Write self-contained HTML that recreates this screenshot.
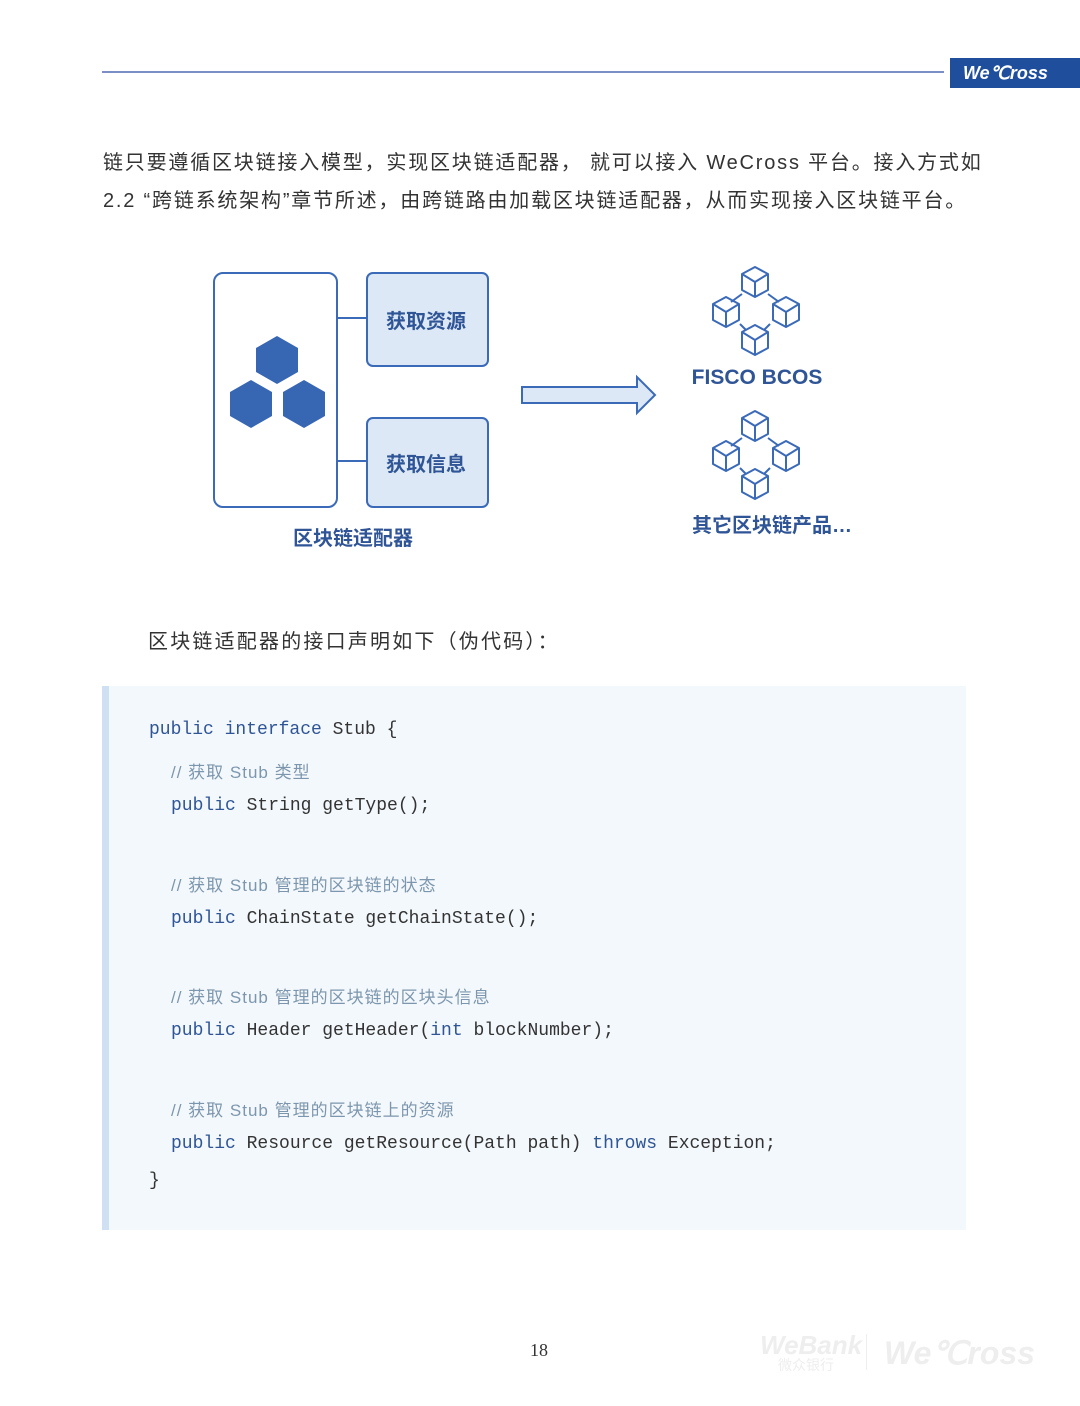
<!DOCTYPE html>
<html><head><meta charset="utf-8"><style>
body{margin:0;width:1080px;height:1406px;background:#fff;position:relative;overflow:hidden;font-family:"Liberation Sans","Noto Sans CJK SC",sans-serif;color:#333}
.abs{position:absolute}
.t{font-size:20px;white-space:nowrap;letter-spacing:1.8px}
.code{position:absolute;left:102px;top:686px;width:864px;height:544px;background:#f3f8fc;border-left:7px solid #cfe0f3;box-sizing:border-box}
.cl{position:absolute;font-family:"Liberation Mono",monospace;font-size:18px;color:#333;white-space:nowrap}
.k{color:#2f5597}
.c{position:absolute;font-family:"Liberation Sans","Noto Sans CJK SC",sans-serif;font-size:17px;color:#7d96ad;white-space:nowrap;letter-spacing:1px}
</style></head><body>
<div class="abs" style="left:102px;top:71px;width:842px;height:2px;background:#7b8fc6"></div>
<div class="abs" style="left:950px;top:58px;width:130px;height:30px;background:#1f4e9c;color:#fff;font:italic bold 18px 'Liberation Sans',sans-serif;line-height:30px;padding-left:13px;box-sizing:border-box">We℃ross</div>

<div class="abs t" style="left:103px;top:146px">链只要遵循区块链接入模型，实现区块链适配器， 就可以接入 WeCross 平台。接入方式如</div>
<div class="abs t" style="left:103px;top:184px">2.2 “跨链系统架构”章节所述，由跨链路由加载区块链适配器，从而实现接入区块链平台。</div>

<svg class="abs" style="left:0;top:0" width="1080" height="600">
<defs>
<g id="cube" fill="none" stroke="#3a6ab8" stroke-width="2" stroke-linejoin="round">
<path d="M0,-15 L13,-8 L13,8 L0,15 L-13,8 L-13,-8 Z"/>
<path d="M-13,-8 L0,0 L13,-8 M0,0 L0,15"/>
</g>
<g id="cl">
<g stroke="#3a6ab8" stroke-width="2"><line x1="742" y1="294" x2="731" y2="302"/><line x1="768" y1="294" x2="779" y2="302"/><line x1="740" y1="324" x2="746" y2="330"/><line x1="770" y1="324" x2="764" y2="330"/></g>
<use href="#cube" x="755" y="282"/><use href="#cube" x="726" y="312"/><use href="#cube" x="786" y="312"/><use href="#cube" x="755" y="340"/>
</g>
</defs>
<rect x="214" y="273" width="123" height="234" rx="9" fill="#fff" stroke="#3a6ab8" stroke-width="2"/>
<rect x="367" y="273" width="121" height="93" rx="6" fill="#dce8f5" stroke="#3a6ab8" stroke-width="2"/>
<rect x="367" y="418" width="121" height="89" rx="6" fill="#dce8f5" stroke="#3a6ab8" stroke-width="2"/>
<line x1="337" y1="318" x2="367" y2="318" stroke="#3a6ab8" stroke-width="2"/>
<line x1="337" y1="461" x2="367" y2="461" stroke="#3a6ab8" stroke-width="2"/>
<g fill="#3766b2">
<path d="M277,336 L298,348 L298,372 L277,384 L256,372 L256,348Z"/>
<path d="M251,380 L272,392 L272,416 L251,428 L230,416 L230,392Z"/>
<path d="M304,380 L325,392 L325,416 L304,428 L283,416 L283,392Z"/>
</g>
<path d="M522,387 L637,387 L637,377 L655,395 L637,413 L637,403 L522,403Z" fill="#dce8f5" stroke="#3a6ab8" stroke-width="2"/>
<use href="#cl"/>
<use href="#cl" y="144"/>
<text x="426" y="328" text-anchor="middle" font-family="Liberation Sans,Noto Sans CJK SC,sans-serif" font-size="20" font-weight="bold" fill="#2f5597">获取资源</text>
<text x="426" y="471" text-anchor="middle" font-family="Liberation Sans,Noto Sans CJK SC,sans-serif" font-size="20" font-weight="bold" fill="#2f5597">获取信息</text>
<text x="353" y="545" text-anchor="middle" font-family="Liberation Sans,Noto Sans CJK SC,sans-serif" font-size="20" font-weight="bold" fill="#2f5597">区块链适配器</text>
<text x="757" y="384" text-anchor="middle" font-family="Liberation Sans,sans-serif" font-size="21" font-weight="bold" fill="#2f5597">FISCO BCOS</text>
<text x="772" y="532" text-anchor="middle" font-family="Liberation Sans,Noto Sans CJK SC,sans-serif" font-size="20" font-weight="bold" fill="#2f5597">其它区块链产品…</text>
</svg>

<div class="abs t" style="left:148px;top:625px;letter-spacing:2.2px">区块链适配器的接口声明如下（伪代码）：</div>

<div class="code"></div>
<div class="cl" style="left:149px;top:720px"><span class="k">public interface</span> Stub {</div>
<div class="c" style="left:171px;top:758px">// 获取 Stub 类型</div>
<div class="cl" style="left:171px;top:796px"><span class="k">public</span> String getType();</div>
<div class="c" style="left:171px;top:871px">// 获取 Stub 管理的区块链的状态</div>
<div class="cl" style="left:171px;top:909px"><span class="k">public</span> ChainState getChainState();</div>
<div class="c" style="left:171px;top:983px">// 获取 Stub 管理的区块链的区块头信息</div>
<div class="cl" style="left:171px;top:1021px"><span class="k">public</span> Header getHeader(<span class="k">int</span> blockNumber);</div>
<div class="c" style="left:171px;top:1096px">// 获取 Stub 管理的区块链上的资源</div>
<div class="cl" style="left:171px;top:1134px"><span class="k">public</span> Resource getResource(Path path) <span class="k">throws</span> Exception;</div>
<div class="cl" style="left:149px;top:1171px">}</div>

<div class="abs" style="left:530px;top:1340px;font:18px 'Liberation Serif',serif;color:#333">18</div>
<div class="abs" style="left:760px;top:1330px;font:italic bold 26px 'Liberation Sans',sans-serif;color:#eeeeee">WeBank</div>
<div class="abs" style="left:778px;top:1355px;font:14px 'Noto Sans CJK SC',sans-serif;color:#eeeeee">微众银行</div>
<div class="abs" style="left:866px;top:1334px;width:1px;height:36px;background:#eeeeee"></div>
<div class="abs" style="left:884px;top:1334px;font:italic bold 32px 'Liberation Sans',sans-serif;color:#eeeeee">We℃ross</div>
</body></html>
